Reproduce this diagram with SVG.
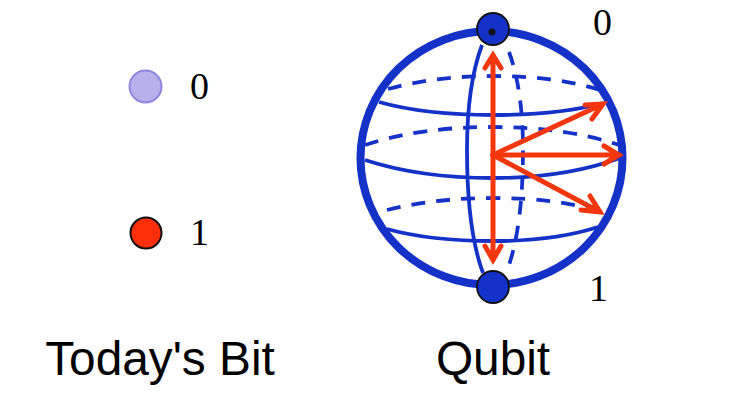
<svg xmlns="http://www.w3.org/2000/svg" width="743" height="408" viewBox="0 0 743 408">
<style>
.d{font-family:"Liberation Serif",serif;font-size:38px;fill:#000}
.l{font-family:"Liberation Sans",Arial,sans-serif;font-size:47.800px;fill:#000;text-anchor:middle}
.b{fill:none;stroke:#1431c8;stroke-width:3.800}
.ds{stroke-dasharray:14 11}
.r{fill:none;stroke:#f2360e;stroke-width:5;stroke-linecap:round;stroke-linejoin:miter}
</style>
<defs><filter id="s" x="-10%" y="-10%" width="120%" height="120%"><feGaussianBlur stdDeviation="1.2"/></filter></defs>
<rect width="743" height="408" fill="#fff"/>
<g id="bit0"><circle cx="145.500" cy="86.500" r="16" fill="#b8b0ea" stroke="#8f86de" stroke-width="2"/><text class="d" x="190" y="99">0</text></g>
<g id="bit1"><circle cx="146" cy="233" r="15.500" fill="#ff2f0a" stroke="#111" stroke-width="2"/><text class="d" x="190" y="245">1</text></g>
<g id="sphere">
<ellipse cx="491.500" cy="158" rx="131" ry="127" fill="none" stroke="#1431c8" stroke-width="8"/>
<path class="b" d="M379 102Q425 115 493 115Q560 115 603 103"/>
<path class="b ds" d="M388 89Q435 76 493 76Q555 76 600 90"/>
<path class="b ds" d="M365 145Q420 127 493 127Q565 127 619 145"/>
<path class="b" d="M365 160Q420 178 493 178Q565 178 620 158"/>
<path class="b ds" d="M387 210Q435 198 493 198Q560 198 600 212"/>
<path class="b" d="M387 229Q430 241 493 241Q555 241 598 227"/>
<path class="b" d="M482 45Q467 85 467 150Q467 230 483 273"/>
<path class="b ds" d="M509 52Q523 90 523 150Q523 225 508 268"/>
</g>
<g id="pole0"><circle cx="493" cy="29" r="16" fill="#1431c8" stroke="#111" stroke-width="1.800"/><circle cx="492" cy="32" r="3.500" fill="#111"/><text class="d" x="593" y="35">0</text></g>
<g id="pole1"><circle cx="493" cy="287" r="16" fill="#1431c8" stroke="#111" stroke-width="1.800"/><text class="d" x="589" y="301">1</text></g>
<g id="connectors">
<g class="r" opacity=".35" filter="url(#s)" transform="translate(1 3)"><path d="M493 155H618"/></g>
<path class="r" d="M493 155V55M485 68L493 55L501 68"/>
<path class="r" d="M493 155V260M485 246L493 260L501 246"/>
<path class="r" d="M493 155L603 104M585 105L603 104L592 119"/>
<path class="r" d="M493 155H619M604 146L619 155L604 164"/>
<path class="r" d="M493 155L600 212M581 210L600 212L590 196"/>
</g>
<g id="labels"><text class="l" x="160" y="375">Today's Bit</text><text class="l" x="493" y="375">Qubit</text></g>
</svg>
